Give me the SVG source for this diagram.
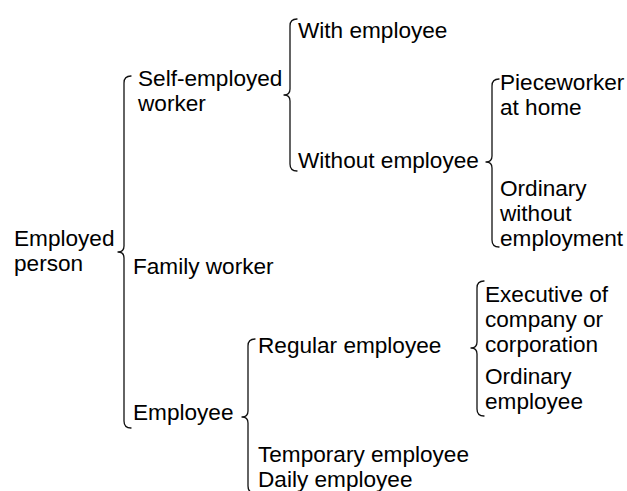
<svg xmlns="http://www.w3.org/2000/svg" width="627" height="491" viewBox="0 0 627 491">
<style>
text{font-family:"Liberation Sans",Arial,sans-serif;font-size:22.6px;fill:#000}
.br{fill:none;stroke:#111;stroke-width:1.3;stroke-linecap:round;stroke-linejoin:round}
</style>
<rect width="627" height="491" fill="#fff"/>
<g id="connectors">
<path class="br" d="M131,76 Q124,76 124,83 L124,246 Q124,252 118,252 Q124,252 124,258 L124,421 Q124,428 131,428"/>
<path class="br" d="M297,19 Q290,19 290,26 L290,89 Q290,95 284,95 Q290,95 290,101 L290,164 Q290,171 297,171"/>
<path class="br" d="M499,79 Q492,79 492,86 L492,156 Q492,162 486,162 Q492,162 492,168 L492,240 Q492,247 499,247"/>
<path class="br" d="M255,339 Q248,339 248,346 L248,411 Q248,417 242,417 Q248,417 248,423 L248,486 Q248,493 255,493"/>
<path class="br" d="M484,281 Q477,281 477,288 L477,342 Q477,348 471,348 Q477,348 477,354 L477,409 Q477,416 484,416"/>
</g>
<g id="employed-person"><text x="14" y="246">Employed</text><text x="14" y="271">person</text></g>
<g id="self-employed"><text x="138" y="86">Self-employed</text><text x="138" y="111">worker</text></g>
<g id="family-worker"><text x="133" y="274">Family worker</text></g>
<g id="employee"><text x="133" y="420">Employee</text></g>
<g id="with-employee"><text x="298" y="38">With employee</text></g>
<g id="without-employee"><text x="298" y="168">Without employee</text></g>
<g id="pieceworker"><text x="500" y="90">Pieceworker</text><text x="500" y="115">at home</text></g>
<g id="ordinary-without"><text x="500" y="196">Ordinary</text><text x="500" y="221">without</text><text x="500" y="246">employment</text></g>
<g id="regular-employee"><text x="258" y="353">Regular employee</text></g>
<g id="executive"><text x="485" y="302">Executive of</text><text x="485" y="327">company or</text><text x="485" y="352">corporation</text></g>
<g id="ordinary-employee"><text x="485" y="384">Ordinary</text><text x="485" y="409">employee</text></g>
<g id="temporary"><text x="258" y="462">Temporary employee</text><text x="258" y="487">Daily employee</text></g>
</svg>
